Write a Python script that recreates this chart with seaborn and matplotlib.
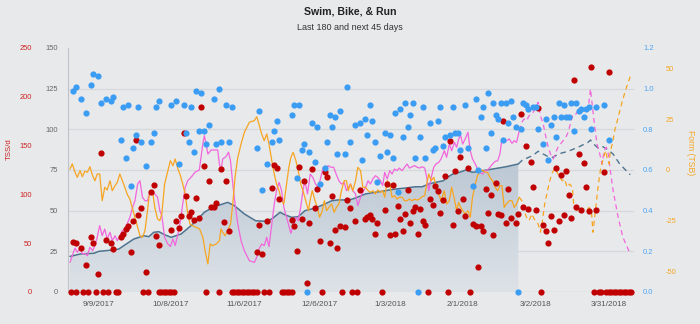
import numpy as np
import pandas as pd
import matplotlib
matplotlib.use("Agg")
import matplotlib.pyplot as plt
import matplotlib.dates as mdates
from matplotlib.colors import LinearSegmentedColormap
import seaborn as sns

# ---------------- data ----------------
START_DATE = "2017-08-28"
TODAY_DAY = 180
SPAN_DAYS = 225

TITLE = "Swim, Bike, & Run"
SUBTITLE = "Last 180 and next 45 days"
TICK_LABELS = ["9/9/2017", "10/8/2017", "11/6/2017", "12/6/2017",
               "1/3/2018", "2/1/2018", "3/2/2018", "3/31/2018"]

fitness_ticks = [0, 25, 50, 75, 100, 125, 150]
tss_ticks = [0, 50, 100, 150, 200, 250]
if_ticks = [0.0, 0.2, 0.4, 0.6, 0.8, 1.0, 1.2]
tsb_ticks = [-50, -25, 0, 25, 50]

# daily TSS (red dots), day offsets from START_DATE
tss_day = [2, 3, 5, 7, 9, 10, 12, 13, 15, 17, 18, 21, 22, 23, 24, 25, 26, 27, 28, 29, 31, 33, 34, 35, 36,
           41, 43, 44, 45, 46, 47, 48, 49, 50, 51, 52, 53, 54, 56, 57, 58, 59, 61, 62, 63, 64,
           75, 76, 77, 79, 81, 82, 83, 84, 89, 90, 91, 92, 93, 94, 95, 96, 97, 98, 99, 100, 102, 103, 104, 105, 106, 107, 108, 110, 111,
           112, 114, 116, 118, 119, 120, 121, 122, 123, 126, 127, 128, 129, 130, 131, 132, 133, 134, 135, 136, 137, 138, 139, 140, 141, 142, 144, 145, 146, 147, 148, 149,
           150, 152, 153, 154, 155, 156, 157, 158, 159, 161, 162, 163, 164, 165, 166, 167, 168, 169, 170, 171, 172, 173, 174, 175, 176, 178, 179, 180, 181, 182, 183, 184, 185, 186,
           187, 189, 190, 191, 192, 193, 194, 195, 196, 197, 198, 199, 200, 201, 202, 203, 204, 205, 206, 207, 208, 210, 213, 215]
tss_val = [51, 50, 45, 28, 56, 50, 18, 142, 53, 50, 44, 56, 59, 65, 68, 41, 73, 156, 79, 86, 21, 102, 110, 57, 48,
           64, 73, 66, 78, 163, 98, 78, 82, 74, 96, 76, 190, 129, 114, 87, 87, 91, 126, 72, 114, 62,
           41, 69, 39, 73, 107, 130, 127, 95, 74, 68, 42, 128, 75, 114, 9, 71, 126, 86, 106, 52, 123, 118, 50, 98, 64, 45, 68, 67, 94,
           86, 73, 105, 75, 77, 79, 75, 59, 71, 84, 111, 58, 110, 59, 88, 75, 62, 80, 105, 71, 83, 87, 59, 85, 73, 69, 95, 89, 109, 103, 81, 94,
           119, 155, 69, 124, 83, 138, 95, 78, 127, 70, 68, 26, 68, 63, 106, 81, 99, 58, 112, 80, 79, 175, 71, 106, 76, 71, 80, 182, 87, 150, 85, 133, 108, 84,
           189, 69, 63, 50, 78, 64, 127, 73, 120, 79, 124, 99, 76, 217, 87, 141, 84, 132, 108, 83, 231, 84, 123, 225]
# days with TSS = 0
rest_day = [1, 3, 6, 8, 11, 14, 16, 19, 20, 30, 32, 36, 37, 38, 39, 40, 41, 42, 55, 60,
            65, 66, 67, 68, 69, 70, 71, 72, 73, 74, 75, 78, 80, 85, 86, 87, 88, 89, 101, 109,
            113, 115, 125, 143, 151, 160, 188, 209, 211, 212, 214, 215, 216, 217, 218, 219,
            220, 221, 222, 223, 224]

# intensity factor (blue dots)
if_day = [2, 3, 5, 7, 9, 10, 12, 13, 15, 17, 18, 21, 22, 23, 24, 25, 26, 27, 28, 29, 31, 33, 34, 35, 36,
          41, 43, 44, 46, 47, 48, 49, 50, 51, 52, 53, 54, 55, 56, 58, 59, 60, 61, 63, 64, 65,
          75, 76, 77, 79, 81, 82, 83, 84, 89, 90, 91, 92, 93, 94, 96, 97, 98, 99, 100, 102, 103, 104, 105, 106, 107, 108, 110, 111,
          112, 114, 116, 117, 118, 119, 120, 121, 122, 123, 124, 126, 127, 128, 129, 130, 131, 132, 133, 134, 135, 136, 137, 138, 140, 141, 142, 144, 145, 146, 147, 148, 149,
          150, 152, 153, 154, 155, 156, 158, 159, 161, 162, 163, 164, 165, 166, 167, 168, 169, 170, 171, 172, 173, 174, 175, 176, 177, 178, 180, 181, 182, 183, 185, 186,
          187, 189, 190, 191, 192, 193, 194, 195, 196, 197, 198, 199, 200, 201, 202, 203, 204, 205, 206, 207, 208, 210, 213, 215,
          95, 139, 179]
if_val = [0.99, 1.01, 0.95, 0.88, 1.02, 1.07, 1.06, 0.93, 0.95, 0.94, 0.96, 0.75, 0.91, 0.66, 0.92, 0.52, 0.71, 0.77, 0.91, 0.74, 0.62, 0.74, 0.78, 0.91, 0.94,
          0.92, 0.94, 0.63, 0.92, 0.78, 0.74, 0.91, 0.69, 0.99, 0.79, 0.98, 0.79, 0.73, 0.82, 0.95, 0.73, 1.00, 0.74, 0.92, 0.74, 0.91,
          0.71, 0.89, 0.50, 0.63, 0.74, 0.79, 0.84, 0.75, 0.87, 0.92, 0.56, 0.92, 0.70, 0.73, 0.69, 0.83, 0.64, 0.81, 0.53, 0.61, 0.74, 0.87, 0.81, 0.86, 0.68, 0.89, 0.68, 1.01,
          0.74, 0.82, 0.83, 0.65, 0.85, 0.77, 0.92, 0.84, 0.74, 0.54, 0.67, 0.78, 0.69, 0.77, 0.66, 0.88, 0.49, 0.90, 0.76, 0.93, 0.81, 0.87, 0.93, 0.66, 0.76, 0.91, 0.66, 0.83, 0.70, 0.71, 0.84, 0.91, 0.72,
          0.76, 0.77, 0.91, 0.78, 0.78, 0.70, 0.92, 0.71, 0.52, 0.95, 0.60, 0.86, 0.91, 0.71, 0.98, 0.78, 0.93, 0.87, 0.85, 0.93, 0.75, 0.93, 0.83, 0.94, 0.86, 0.81, 0.80, 0.93, 0.92, 0.90, 0.91, 0.91,
          0.80, 0.73, 0.85, 0.65, 0.82, 0.86, 0.76, 0.93, 0.86, 0.92, 0.86, 0.86, 0.93, 0.79, 0.93, 0.89, 0.90, 0.86, 0.90, 0.91, 0.80, 0.91, 0.92, 0.75,
          0.0, 0.0, 0.0]

# fitness (CTL)
ctl_day = [0.8, 5, 10.3, 12.3, 17.6, 20.2, 22.2, 26.2, 30.2, 32.1, 34.1, 36.1, 38.4, 41, 45, 48.9, 51.6, 54.2, 56.9, 59.5,
           63.5, 66.1, 70.1, 74.6, 78.3, 81, 84.3, 86.2, 88.9, 91.5, 94.2, 96.8, 99.5, 102.1, 104.8, 107.4, 111.9, 114.3, 118.3, 122.2,
           126.2, 130.2, 134.1, 138.1, 140.8, 143.4, 146, 149.2, 150.3, 152.9, 155.6, 158.2, 160.8, 163.5, 168.8, 174.1, 179,
           180.7, 184.7, 186.9, 188.9, 190.9, 192.9, 194.8, 198.8, 202.8, 206.7, 207.7, 208.7, 210.7, 212.7, 214.7, 216.7, 219.3, 223.5]
ctl_val = [21.9, 23.4, 23.8, 25, 25.8, 26.4, 28.5, 32.6, 34.6, 34, 36.7, 37.1, 35.2, 33.6, 35.7, 40.8, 44.9, 49, 51.5, 53.1,
           55.1, 53.1, 48, 43.8, 43.5, 44.9, 49, 47.5, 45.9, 46.3, 50, 51, 52.4, 54.1, 56.1, 56.6, 56.6, 57.8, 60.3, 61.3,
           62.3, 63.3, 63.9, 64.7, 64.7, 66.4, 67.4, 68.4, 70, 72.5, 73.6, 75, 73.6, 74.2, 75.6, 77, 78.7,
           81.2, 83.8, 86.5, 84.8, 83.2, 82.8, 84.8, 86.5, 89, 92, 93.4, 91.4, 88.5, 89.3, 87.3, 84.8, 78.7, 72.1]

# fatigue (ATL)
atl_day = [0.8, 1.7, 2.8, 3.7, 4.8, 5.7, 6.7, 7.7, 8.7, 9.8, 10.7, 11.6, 12.6, 13.6, 14.6, 15.6, 16.7, 17.6, 18.7, 19.6,
           20.6, 21.6, 22.6, 23.5, 24.6, 25.5, 26.6, 27.7, 28.6, 29.6, 30.6, 31.6, 32.5, 33.6, 34.5, 35.6, 36.5, 37.3,
           38.4, 39.7, 40.7, 41.7, 42.6, 43.7, 44.7, 45.6, 46.6, 47.6, 48.9, 50.5, 52.2, 52.9, 53.6, 54.2, 54.9, 55.6, 56.9, 59.5,
           60.2, 60.8, 61.5, 62.8, 63.8, 64.6, 65.5, 66.4, 67.5, 68.8, 70.1, 72.1,
           74.1, 75, 75.9, 77, 78, 79, 79.9, 81, 82, 82.9, 83.9, 84.9, 85.8, 86.9, 87.8, 88.6, 89.5, 90.6, 91.5, 92.5,
           93.4, 94.2, 95.2, 96.3, 97.3, 98.4, 99.5, 100.5, 101.5, 102.4, 103.4, 104.5, 105.6, 106.6, 107.7, 108.7, 109.8, 110.7,
           112.3, 113.2, 114.3, 115.2, 116.3, 117.2, 118.3, 119.3, 120.2, 121.2, 122.2, 123.1, 124.2, 125.1, 125.9, 126.9, 127.9, 128.8, 129.8, 130.8,
           131.7, 132.8, 133.8, 134.8, 135.7, 136.8, 137.8, 138.8, 139.7, 140.8, 141.8, 142.6, 143.4, 144.4, 145.4, 146.3, 147.4, 148.3,
           149.6, 150.5, 151.6, 152.5, 153.6, 154.5, 155.3, 156.1, 156.9, 157.9, 159, 159.9, 160.8, 161.9, 162.8, 163.8, 164.8, 165.9, 166.8, 167.7,
           168.8, 169.8, 170.8, 171.7, 172.5, 173.4, 174.3, 175.4, 176.5, 177.4, 178.3, 179.4,
           180.4, 181.3, 182.3, 183.3, 184.4, 185.3, 186, 186.9, 187.8, 188.9, 190, 190.9, 191.8, 192.9, 193.9, 194.8, 195.8, 196.8, 197.9, 198.8,
           199.7, 200.8, 201.9, 202.8, 203.7, 204.8, 205.8, 206.7, 207.7, 208.5, 209.4, 210.3, 211.4, 212.3, 213.1, 214, 214.8, 215.6, 216.7, 218.7,
           220.6, 223.5]
atl_val = [18.2, 22.3, 27, 24.4, 27, 23.4, 23.8, 22.3, 27.5, 25.4, 28.5, 33.6, 40.8, 34.6, 38.7, 32.6, 36.7, 31.5, 34.6, 31.5,
           34.6, 37.7, 38.7, 41.8, 45.9, 51, 56.1, 66.4, 68.4, 58.2, 56.1, 56.1, 61.3, 62.3, 60.3, 58.2, 50, 46.9,
           33.6, 29.5, 27.9, 32.6, 28.5, 35.7, 43.8, 54.1, 64.4, 68.4, 70.5, 73.6, 75, 82.8, 91, 96.1, 91, 84.8, 87.3, 87.3,
           78.7, 74.6, 81.8, 83.2, 85.9, 80.7, 66.4, 54.1, 41.8, 31.5, 25.4, 19.2,
           18.2, 21.3, 26.4, 29.5, 28.5, 33.6, 27.9, 41.8, 54.1, 62.3, 67.4, 62.3, 52.1, 45.9, 40.8, 36.1, 40.8, 45.9, 43.8, 52.1,
           62.3, 68.4, 60.3, 72.5, 70.5, 66.4, 64.4, 70.5, 76.7, 74.6, 77.7, 76.7, 76.7, 72.5, 68.4, 66.4, 67.4, 62.3,
           66.4, 62.3, 60.3, 53.1, 58.2, 61.3, 64.4, 68.4, 66.4, 69.5, 71.5, 70.5, 68.4, 65.4, 73.6, 69.5, 74.6, 72.5, 75.6, 74.6,
           76.2, 74.6, 76.7, 78.7, 76.2, 77, 77.7, 76.7, 76.2, 77, 76.2, 70.5, 62.3, 70.5, 76.7, 78.7, 79.7, 81.8,
           86.9, 82.8, 91, 86.9, 92, 89, 94.1, 96.1, 91, 94.1, 98.2, 86.9, 81.8, 78.7, 75.6, 73.6, 72.5, 74.6, 75, 76.7,
           78.7, 80.3, 80.7, 84.8, 94.1, 92, 93, 94.1, 91.4, 93, 92, 99.2,
           104.3, 106.4, 105.3, 108.4, 109.4, 111.5, 113.6, 116.6, 108.4, 103.3, 95.1, 89, 84.8, 81.8, 85.9, 89, 91, 93, 95.1, 98.2,
           103.3, 109.4, 109.4, 111.5, 110.5, 111.5, 113.6, 111.5, 124.8, 113.6, 101.3, 91, 84.8, 78.7, 86.9, 89, 84.8, 74.6, 62.3, 45.9,
           33.6, 23.4]

# form (TSB)
tsb_day = [0.8, 1.7, 2.8, 3.7, 4.8, 5.7, 6.7, 7.7, 8.7, 9.8, 10.7, 11.6, 12.6, 13.6, 14.6, 15.6, 16.7, 17.6, 18.7, 19.6,
           20.6, 21.6, 22.6, 23.5, 24.6, 25.5, 26.6, 27.7, 28.6, 29.6, 30.6, 31.6, 32.5, 33.6, 34.5, 35.6, 36.5, 37.3,
           38.4, 39.7, 40.7, 41.7, 42.6, 43.7, 44.7, 45.6, 46.6, 47.6, 48.5, 49.6, 50.9, 52.3, 53.6, 54.5, 55.6, 56.5, 57.5, 58.9,
           60.2, 60.8, 61.5, 62.4, 63.5, 64.6, 65.5, 66.4, 67.5, 68.8, 70.1, 72.1,
           74.1, 75, 75.9, 77, 78, 79, 79.9, 81, 82, 82.9, 83.9, 84.9, 85.8, 86.9, 87.8, 88.6, 89.5, 90.6, 91.5, 92.5,
           93.4, 94.5, 95.6, 96.2, 97.1, 98.2, 99.1, 100, 101.1, 101.9, 102.8, 103.7, 104.8, 105.8, 106.7, 107.7, 108.7, 109.8, 110.7,
           111.4, 112.3, 113.2, 114.3, 115.2, 116.3, 117.2, 118.3, 119.3, 120.2, 121.2, 122.2, 123.1, 124.2, 125.1, 125.9, 126.9, 127.9, 128.8, 129.8,
           130.8, 131.7, 132.8, 133.8, 134.8, 135.7, 136.8, 137.8, 138.8, 139.7, 140.8, 141.8, 142.6, 143.4, 144.4, 145.4, 146.3, 147.4, 148.3,
           149.6, 150.5, 151.6, 152.5, 153.6, 154.5, 155.3, 156.1, 156.9, 157.9, 159, 159.9, 160.8, 161.9, 162.8, 163.8, 164.8, 165.9, 166.8, 167.7,
           168.8, 169.8, 170.8, 171.7, 172.5, 173.4, 174.3, 175.4, 176.5, 177.4, 178.3, 179.4,
           180.4, 181.3, 182.3, 183.3, 184.4, 185.3, 186, 186.9, 187.8, 188.6, 189.5, 190.5, 191.5, 192.6, 193.7, 194.4, 195.5, 196.5, 197.4, 198.4,
           199.4, 200.5, 201, 202.1, 203.2, 204.1, 205, 206.1, 207.2, 208.1, 208.7, 209.8, 210.7, 211.6, 212.7, 213.7, 214.3, 215.1, 215.6, 216.4,
           217.3, 218.7, 220.4, 222, 223.5]
tsb_val = [0.5, 3, -1.1, -3.6, -0.3, -3.3, -0.6, -1.1, 1.6, -2.8, -5.3, -2, -2, -15.1, -8.5, -9.8, -5.3, -10.2, -7.7, -6.1,
           -2, -5.3, -8.5, -11.8, -14.3, -18.4, -23.3, -28.2, -32.3, -33.1, -29.8, -20, -10.2, -10.2, -18.4, -24.1, -24.9, -21.6,
           -6.9, -0.3, 4.6, 2.1, 5.4, 0.5, -2.8, -6.9, -11.8, -21.6, -26.6, -27.4, -28.2, -29, -33.1, -39.7, -46.2, -36.4, -37.2, -36.4,
           -34.8, -29, -30.6, -32.3, -29.8, -26.6, -16.7, -3.6, 6.2, 12.8, 18.5, 23.5,
           24.3, 26.2, 22.6, 17.7, 14.4, 17.7, 12.8, 4.6, -2, -6.9, -10.2, -15.1, -16.7, -6.9, 1.3, 6.2, 8.7, 4.6, -0.3, -6.9,
           -10.2, -15.1, -20, -15.1, -10.2, -15.1, -18.4, -23.3, -20, -15.1, -20, -18.4, -16.7, -20.8, -18.4, -16.7, -10.2, -5.3, -5.3,
           -10.2, -6.9, -10.2, -5.3, 1.3, -0.3, -8.5, -8.5, -10.2, -11, -10.2, -11.8, -9.8, -11, -10.2, -13.4, -5.3, -6.9, -13.4, -12.6,
           -14.3, -13.4, -13.4, -15.1, -15.1, -14.3, -15.1, -14.3, -14.8, -14.3, -13.1, -12.6, -6.9, -2, -5.3, -3.6, -7.7, -11.8, -15.1,
           -10.2, -16.7, -15.1, -8.5, -14.3, -20, -15.9, -18.4, -20, -21.6, -20, -23.3, -13.4, -6.9, -2.8, -0.6, 0, -1.1, -1.1, -3.6,
           -5.3, -8.5, -10.2, -7.7, -7.7, -18.4, -16.7, -15.1, -15.1, -18.4, -16.7, -13.4,
           -15.1, -20, -23.3, -24.9, -21.6, -24.1, -24.9, -26.6, -30.6, -24.9, -16.7, -11, -5.3, -1.1, 1, -1.1, -3.6, -5.3, -4.4, -8.5,
           -6.9, -8.5, -16.7, -20, -19.2, -20.8, -20, -20, -18.4, -20.8, -30.6, -18.4, -8.5, -0.3, 5.4, 9.5, 6.2, 3, 9.5, 12.8,
           19.3, 25.9, 34.1, 40.6, 45.9]

for a, b in [(tss_day, tss_val), (if_day, if_val), (ctl_day, ctl_val), (atl_day, atl_val), (tsb_day, tsb_val)]:
    assert len(a) == len(b), (len(a), len(b))

# ---------------- styling ----------------
BG = "#e8e9eb"
RED = "#c00000"
BLUE = "#3a9cf2"
PINK = "#f266dc"
ORANGE = "#f7a521"
SLATE = "#4f7490"
GRID = "#d6d8db"

start = pd.Timestamp(START_DATE)


def to_dates(days):
    return start + pd.to_timedelta(np.asarray(days, dtype=float), unit="D")


def split(days, vals):
    d = np.asarray(days, float)
    v = np.asarray(vals, float)
    k = int(np.searchsorted(d, TODAY_DAY, side="right"))
    return (d[:k], v[:k]), (d[k - 1:], v[k - 1:])


sns.set_theme(style="white")
plt.rcParams["font.family"] = ["Liberation Sans", "DejaVu Sans"]

fig = plt.figure(figsize=(7.0, 3.24), dpi=100, facecolor=BG)
ax = fig.add_axes([68 / 700, 32 / 324, 566 / 700, 244 / 324])
ax.set_facecolor(BG)
ax_tsb = ax.twinx()
ax_tss = ax.twinx()
ax_if = ax.twinx()

# grid lines
for v in fitness_ticks[1:-1]:
    ax.axhline(v, color=GRID, lw=0.9, zorder=0)
ax.axhline(0, color="#cdd1d6", lw=1.0, zorder=0.5)

# fitness area with gradient
(ctl_pd, ctl_pv), (ctl_fd, ctl_fv) = split(ctl_day, ctl_val)
past_dates = to_dates(ctl_pd)
poly = ax.fill_between(past_dates, 0, ctl_pv, facecolor="none", edgecolor="none")
x0 = mdates.date2num(past_dates[0])
x1 = mdates.date2num(past_dates[-1])
grad = np.linspace(1, 0, 256).reshape(-1, 1)
cmap = LinearSegmentedColormap.from_list("fit", ["#dde2e7", "#bcc8d4"])
im = ax.imshow(grad, extent=[x0, x1, 0, max(ctl_pv)], aspect="auto", cmap=cmap,
               vmin=0, vmax=1, zorder=1, interpolation="bilinear")
im.set_clip_path(poly.get_paths()[0], transform=ax.transData)

dash = (0, (4, 3))
sns.lineplot(x=past_dates, y=ctl_pv, ax=ax, color=SLATE, lw=1.1, estimator=None, sort=False, zorder=3)
sns.lineplot(x=to_dates(ctl_fd), y=ctl_fv, ax=ax, color=SLATE, lw=1.0, linestyle=dash,
             estimator=None, sort=False, zorder=3)

(atl_pd, atl_pv), (atl_fd, atl_fv) = split(atl_day, atl_val)
sns.lineplot(x=to_dates(atl_pd), y=atl_pv, ax=ax, color=PINK, lw=0.9, estimator=None, sort=False, zorder=4)
sns.lineplot(x=to_dates(atl_fd), y=atl_fv, ax=ax, color=PINK, lw=0.9, linestyle=dash,
             estimator=None, sort=False, zorder=4)

(tsb_pd, tsb_pv), (tsb_fd, tsb_fv) = split(tsb_day, tsb_val)
sns.lineplot(x=to_dates(tsb_pd), y=tsb_pv, ax=ax_tsb, color=ORANGE, lw=0.9, estimator=None, sort=False)
sns.lineplot(x=to_dates(tsb_fd), y=tsb_fv, ax=ax_tsb, color=ORANGE, lw=0.9, linestyle=dash,
             estimator=None, sort=False)

sns.scatterplot(x=to_dates(tss_day + rest_day), y=tss_val + [0] * len(rest_day), ax=ax_tss,
                color=RED, s=20, linewidth=0, clip_on=False, legend=False)
sns.scatterplot(x=to_dates(if_day), y=if_val, ax=ax_if,
                color=BLUE, s=20, linewidth=0, clip_on=False, legend=False)

# limits
xlim = (start, start + pd.Timedelta(days=SPAN_DAYS))
for a in (ax, ax_tsb, ax_tss, ax_if):
    a.set_xlim(*xlim)
    a.set_xlabel("")
    a.set_ylabel("")
    for s in a.spines.values():
        s.set_visible(False)
ax.set_ylim(0, 150)
ax_tss.set_ylim(0, 250)
ax_if.set_ylim(0, 1.2)
ax_tsb.set_ylim(-60, 60)

ax.spines["left"].set_visible(True)
ax.spines["left"].set_color("#bfc3c8")
ax.spines["left"].set_linewidth(0.8)

# ticks
tick_dates = pd.to_datetime(TICK_LABELS, format="%m/%d/%Y")
ax.set_xticks(tick_dates)
ax.set_xticklabels(TICK_LABELS)
ax.tick_params(axis="x", length=0, pad=6.5, labelsize=5.9, labelcolor="#555555")

ax.set_yticks(fitness_ticks)
ax.set_yticklabels([str(t) for t in fitness_ticks])
ax.tick_params(axis="y", length=0, pad=7.2, labelsize=5.4, labelcolor="#666666")

ax_tss.yaxis.tick_left()
ax_tss.set_yticks(tss_ticks)
ax_tss.set_yticklabels([str(t) for t in tss_ticks])
ax_tss.tick_params(axis="y", length=0, pad=26, labelsize=5.4, labelcolor="#cc2222")

ax_if.yaxis.tick_right()
ax_if.set_yticks(if_ticks)
ax_if.set_yticklabels([f"{t:.1f}" for t in if_ticks])
ax_if.tick_params(axis="y", length=0, pad=6.5, labelsize=5.4, labelcolor="#4aa3f2")

ax_tsb.yaxis.tick_right()
ax_tsb.set_yticks(tsb_ticks)
ax_tsb.set_yticklabels([str(t) for t in tsb_ticks])
ax_tsb.tick_params(axis="y", length=0, pad=23, labelsize=5.4, labelcolor="#f5a623")

# axis titles and headings
fig.text(9 / 700, 1 - 149 / 324, "TSS/d", rotation=90, color="#cc2222", fontsize=5.6,
         ha="center", va="center")
fig.text(690 / 700, 1 - 153 / 324, "Form (TSB)", rotation=270, color="#f5a623", fontsize=6.2,
         ha="center", va="center")
fig.text(0.5, 1 - 11 / 324, TITLE, ha="center", va="center", fontsize=7.6, color="#222222",
         fontweight="bold")
fig.text(0.5, 1 - 27 / 324, SUBTITLE, ha="center", va="center", fontsize=6.5, color="#333333")

fig.savefig("out.png", dpi=100, facecolor=BG)
